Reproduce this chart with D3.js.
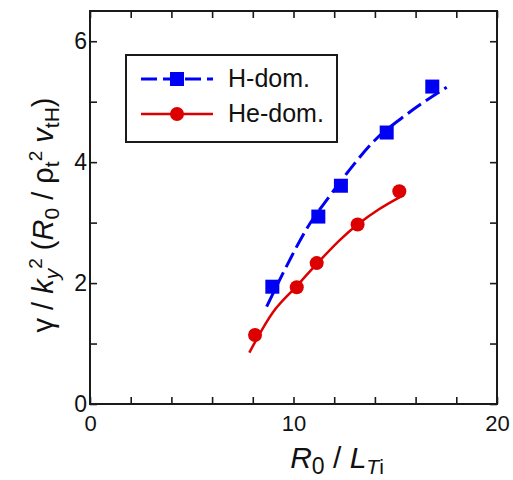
<html>
<script src="https://cdn.jsdelivr.net/npm/d3@7"></script>
<style>
  body { margin: 0; background: #fff; }
  text { font-family: "Liberation Sans", Arial, sans-serif; fill: #111; }
  .domain { display: none; }
  .tick line { stroke: #1a1a1a; stroke-width: 1.6; }
</style>
<body>
<svg width="513" height="480"></svg>
<script>
// measured points (x = R0/LTi, y = growth rate)
var hX = [8.96, 11.22, 12.33, 14.58, 16.82];
var hY = [1.94, 3.10, 3.61, 4.49, 5.25];
var heX = [8.11, 10.16, 11.14, 13.15, 15.2];
var heY = [1.14, 1.93, 2.33, 2.97, 3.52];

// fit curves
var hFitX = [8.68, 9.6, 10.65, 11.8, 12.7, 13.9, 15.6, 17.53];
var hFitY = [1.61, 2.24, 2.90, 3.45, 3.85, 4.33, 4.80, 5.24];
var heFitX = [7.83, 9.0, 10.1, 11.1, 12.3, 13.2, 14.2, 15.27];
var heFitY = [0.85, 1.52, 1.93, 2.30, 2.72, 2.98, 3.22, 3.43];

var xTicks = [0, 2, 4, 6, 8, 10, 12, 14, 16, 18, 20];
var xLabels = [0, 10, 20];
var yTicks = [0, 1, 2, 3, 4, 5, 6];
var yLabels = [0, 2, 4, 6];

var seriesNames = ["H-dom.", "He-dom."];
var blue = "#0000f5", red = "#dc0000";

var pLeft = 90, pRight = 497, pTop = 11, pBottom = 404;
var svg = d3.select("svg");

var x = d3.scaleLinear().domain([0, 20]).range([pLeft, pRight]);
var y = d3.scaleLinear().domain([0, 6.5]).range([pBottom, pTop]);

var fmtX = function(d) { return xLabels.indexOf(d) >= 0 ? d : ""; };
var fmtY = function(d) { return yLabels.indexOf(d) >= 0 ? d : ""; };

// axes with inward ticks on all sides
svg.append("g").attr("transform", "translate(0," + pBottom + ")")
  .call(d3.axisBottom(x).tickValues(xTicks).tickFormat(fmtX).tickSize(-7).tickPadding(11))
  .selectAll("text").style("font-size", "22px").style("font-family", "Liberation Sans");
svg.append("g").attr("transform", "translate(0," + pTop + ")")
  .call(d3.axisTop(x).tickValues(xTicks).tickFormat("").tickSize(-7));
svg.append("g").attr("transform", "translate(" + pLeft + ",0)")
  .call(d3.axisLeft(y).tickValues(yTicks).tickFormat(fmtY).tickSize(-7).tickPadding(3))
  .selectAll("text").style("font-size", "23px").style("font-family", "Liberation Sans");
svg.append("g").attr("transform", "translate(" + pRight + ",0)")
  .call(d3.axisRight(y).tickValues(yTicks).tickFormat("").tickSize(-7));

svg.append("rect").attr("x", pLeft).attr("y", pTop)
  .attr("width", pRight - pLeft).attr("height", pBottom - pTop)
  .attr("fill", "none").attr("stroke", "#1a1a1a").attr("stroke-width", 2);

// fit lines
var line = d3.line().curve(d3.curveMonotoneX)
  .x(function(d) { return x(d[0]); }).y(function(d) { return y(d[1]); });

svg.append("path").datum(d3.zip(hFitX, hFitY)).attr("d", line)
  .attr("fill", "none").attr("stroke", blue).attr("stroke-width", 3)
  .attr("stroke-dasharray", "16,6");
svg.append("path").datum(d3.zip(heFitX, heFitY)).attr("d", line)
  .attr("fill", "none").attr("stroke", red).attr("stroke-width", 2.5);

// markers
svg.selectAll(".sq").data(d3.zip(hX, hY)).enter().append("rect")
  .attr("x", function(d) { return x(d[0]) - 7; })
  .attr("y", function(d) { return y(d[1]) - 7; })
  .attr("width", 14).attr("height", 14).attr("fill", blue);
svg.selectAll(".ci").data(d3.zip(heX, heY)).enter().append("circle")
  .attr("cx", function(d) { return x(d[0]); })
  .attr("cy", function(d) { return y(d[1]); })
  .attr("r", 7).attr("fill", red);

// legend
var lg = svg.append("g");
lg.append("rect").attr("x", 126).attr("y", 55).attr("width", 211).attr("height", 87)
  .attr("fill", "#fff").attr("stroke", "#1a1a1a").attr("stroke-width", 2);
lg.append("line").attr("x1", 141).attr("x2", 213).attr("y1", 79).attr("y2", 79)
  .attr("stroke", blue).attr("stroke-width", 3).attr("stroke-dasharray", "16,6");
lg.append("rect").attr("x", 170).attr("y", 72).attr("width", 14).attr("height", 14).attr("fill", blue);
lg.append("line").attr("x1", 141).attr("x2", 213).attr("y1", 114).attr("y2", 114)
  .attr("stroke", red).attr("stroke-width", 2.5);
lg.append("circle").attr("cx", 177).attr("cy", 114).attr("r", 7).attr("fill", red);
lg.append("text").attr("x", 228).attr("y", 87).style("font-size", "25px").text(seriesNames[0]);
lg.append("text").attr("x", 228).attr("y", 122).style("font-size", "25px").text(seriesNames[1]);

// x title: R0 / LTi
var xt = svg.append("text").attr("x", 337).attr("y", 468)
  .attr("text-anchor", "middle").style("font-size", "30px");
xt.append("tspan").style("font-style", "italic").text("R");
xt.append("tspan").attr("dy", 6).style("font-size", "23px").text("0");
xt.append("tspan").attr("dy", -6).text(" / ");
xt.append("tspan").style("font-style", "italic").text("L");
xt.append("tspan").attr("dy", 6).style("font-size", "21px").style("font-style", "italic").text("T");
xt.append("tspan").style("font-size", "21px").text("i");

// y title: γ / ky² (R0 / ρt² vtH)
var yt = svg.append("text").attr("transform", "translate(53,215) rotate(-90)")
  .attr("text-anchor", "middle").style("font-size", "29px");
yt.append("tspan").text("γ / ");
yt.append("tspan").style("font-style", "italic").text("k");
yt.append("tspan").attr("dy", 6).style("font-size", "21px").style("font-style", "italic").text("y");
yt.append("tspan").attr("dy", -17).style("font-size", "19px").text("2");
yt.append("tspan").attr("dy", 11).text(" (");
yt.append("tspan").style("font-style", "italic").text("R");
yt.append("tspan").attr("dy", 6).style("font-size", "21px").text("0");
yt.append("tspan").attr("dy", -6).text(" / ρ");
yt.append("tspan").attr("dy", 6).style("font-size", "21px").text("t");
yt.append("tspan").attr("dy", -17).style("font-size", "19px").text("2");
yt.append("tspan").attr("dy", 11).text(" ");
yt.append("tspan").style("font-style", "italic").text("v");
yt.append("tspan").attr("dy", 6).style("font-size", "21px").text("tH");
yt.append("tspan").attr("dy", -6).text(")");
</script>
</body>
</html>
